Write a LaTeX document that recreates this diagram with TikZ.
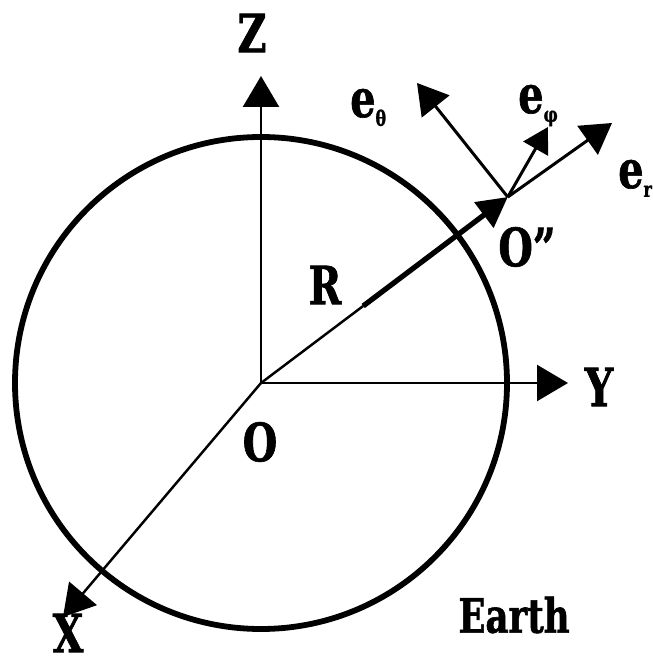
\documentclass[tikz,border=0pt]{standalone}
\usepackage{fontspec}
\setmainfont[FakeStretch=0.75, BoldFeatures={FakeBold=1.2}]{DejaVu Serif}
\usetikzlibrary{arrows.meta}
\newcommand{\unitvec}[1]{e\raisebox{-5pt}{\fontsize{12}{12}\selectfont #1}}

\begin{document}
\begin{tikzpicture}[
    axis/.style={line width=1.4pt, -{Triangle[length=0.62cm, width=0.72cm]}},
    basevec/.style={line width=1.7pt, -{Triangle[length=0.6cm, width=0.7cm]}},
    lbl/.style={font=\fontsize{30}{30}\selectfont\bfseries, inner sep=0pt}]
    \useasboundingbox (-5.22,-5.62) rectangle (7.82,7.66);
    \coordinate (O) at (0,0);
    \coordinate (Z) at (0,6.14);
    \coordinate (Y) at (6.14,0);
    \coordinate (X) at (-3.96,-4.68);
    \coordinate (Rmid) at (37:2.56);
    \coordinate (Op) at (37:6.18);
    \coordinate (er) at (7.02,5.2);
    \coordinate (eth) at (3.12,6.0);
    \coordinate (eph) at (5.74,5.12);
    \draw[line width=3.3pt] (O) circle (4.92);
    \draw[axis] (O) -- (Z);
    \draw[axis] (O) -- (Y);
    \draw[axis] (O) -- (X);
    \draw[line width=1.4pt] (O) -- (Rmid);
    \draw[line width=3pt, -{Triangle[length=0.6cm, width=0.62cm]}] (Rmid) -- (Op);
    \draw[basevec] (Op) -- (er);
    \draw[basevec] (Op) -- (eth);
    \draw[basevec, -{Triangle[length=0.5cm, width=0.56cm]}] (Op) -- (eph);
    \node[lbl] (zlabel) at (-0.18,7.0) {Z};
    \node[lbl] (ylabel) at (6.76,-0.08) {Y};
    \node[lbl] (xlabel) at (-3.86,-5.0) {X};
    \node[lbl] (olabel) at (-0.02,-1.18) {O};
    \node[lbl] (rlabel) at (1.28,1.96) {R};
    \node[lbl] (oplabel) at (5.32,2.72) {O”};
    \node[lbl, anchor=base west] (erlabel) at (7.14,3.9) {\unitvec{r}};
    \node[lbl, anchor=base west] (ethlabel) at (1.78,5.32) {\unitvec{θ}};
    \node[lbl, anchor=base west] (ephlabel) at (5.14,5.4) {\unitvec{φ}};
    \node[lbl, font=\fontsize{27}{27}\selectfont\bfseries] (earth) at (5.06,-4.64) {Earth};
\end{tikzpicture}
\end{document}
